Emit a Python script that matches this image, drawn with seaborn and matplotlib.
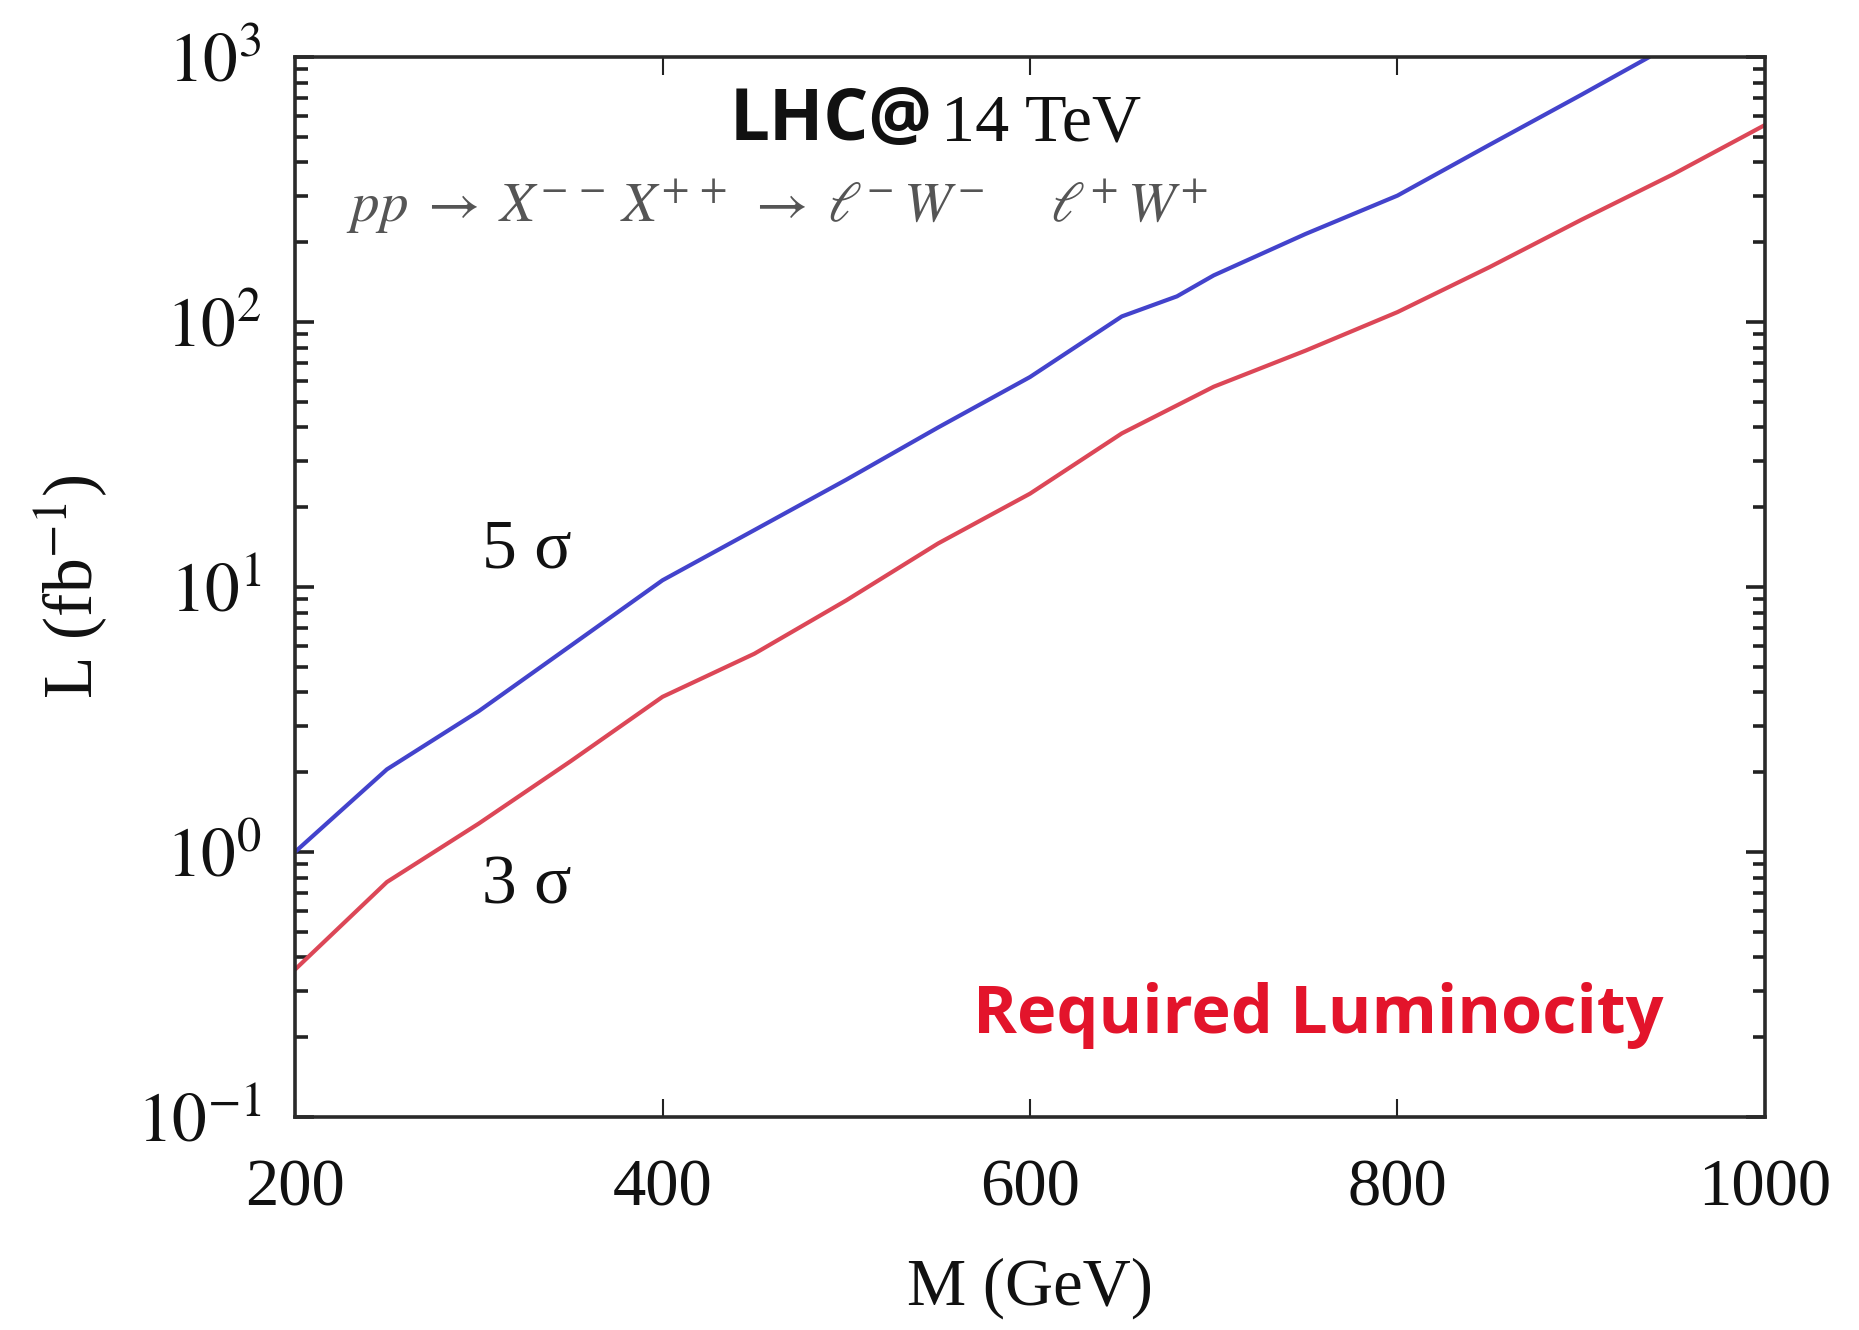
import matplotlib
matplotlib.use("Agg")
import matplotlib.pyplot as plt
import seaborn as sns
import pandas as pd

# ---------------- data ----------------
mass_5sigma = [200, 250, 300, 350, 400, 450, 500, 550, 600, 650, 680, 700, 750, 800, 850, 900, 937]
lumi_5sigma = [1.0, 2.05, 3.4, 6.0, 10.6, 16.4, 25.4, 40, 62, 105, 125, 150, 215, 300, 466, 720, 1000]

mass_3sigma = [200, 250, 300, 350, 400, 450, 500, 550, 600, 650, 700, 750, 800, 850, 900, 950, 1000]
lumi_3sigma = [0.36, 0.77, 1.28, 2.2, 3.85, 5.6, 8.9, 14.6, 22.5, 38, 57, 78, 109, 161, 243, 361, 554]

x_ticks = [200, 400, 600, 800, 1000]
x_tick_labels = ["200", "400", "600", "800", "1000"]
y_ticks = [0.1, 1, 10, 100, 1000]
y_tick_labels = [r"$10^{-1}$", r"$10^{0}$", r"$10^{1}$", r"$10^{2}$", r"$10^{3}$"]

x_label = "M (GeV)"
y_label = r"L (fb$^{-1}$)"
label_5 = "5 σ"
label_3 = "3 σ"
title_bold = "LHC@"
title_rest = "14 TeV"
process = (r"$pp \;\rightarrow\; X^{-\,-}\,X^{+\,+} \;\rightarrow\; "
           r"\ell^{-}\,W^{-}\quad\;\; \ell^{+}\,W^{+}$")
note = "Required Luminocity"

# ---------------- style ----------------
sns.set_style("ticks")
plt.rcParams["font.family"] = ["Liberation Serif", "DejaVu Serif"]
plt.rcParams["mathtext.fontset"] = "stix"
plt.rcParams["axes.linewidth"] = 2.6
plt.rcParams["axes.edgecolor"] = "#2a2a2a"

fig = plt.figure(figsize=(18.59, 13.30), dpi=100)
ax = fig.add_axes([0.1587, 0.1602, 0.7907, 0.7969])

df5 = pd.DataFrame({"M": mass_5sigma, "L": lumi_5sigma})
df3 = pd.DataFrame({"M": mass_3sigma, "L": lumi_3sigma})
sns.lineplot(data=df5, x="M", y="L", ax=ax, color="#4343cc", linewidth=3.0)
sns.lineplot(data=df3, x="M", y="L", ax=ax, color="#dc4757", linewidth=3.0)

ax.set_yscale("log")
ax.set_xlim(200, 1000)
ax.set_ylim(0.1, 1000)

ax.set_xticks(x_ticks)
ax.set_xticklabels(x_tick_labels)
ax.set_yticks(y_ticks)
ax.set_yticklabels(y_tick_labels)

ax.tick_params(axis="x", which="major", direction="in", length=13, width=1.5,
               top=True, bottom=True, labelsize=48, pad=30, colors="#222222")
ax.tick_params(axis="x", which="minor", bottom=False, top=False)
ax.tick_params(axis="y", which="major", direction="in", length=14, width=2.6,
               left=True, right=True, labelsize=50, pad=24, colors="#222222")
ax.tick_params(axis="y", which="minor", direction="in", length=9, width=2.6,
               left=True, right=True, colors="#222222")
for lab in ax.get_xticklabels() + ax.get_yticklabels():
    lab.set_color("#111111")

ax.set_xlabel(x_label, fontsize=48, color="#111111")
ax.set_ylabel(y_label, fontsize=50, color="#111111")
ax.xaxis.set_label_coords(0.5, -0.133)
ax.yaxis.set_label_coords(-0.126, 0.5)

# ---------------- annotations ----------------
fig.text(933 / 1859, 1 - 140 / 1330, title_bold, ha="right", va="baseline",
         fontsize=51, fontweight="bold", family=["Open Sans", "DejaVu Sans"], color="#111111")
fig.text(941 / 1859, 1 - 140 / 1330, title_rest, ha="left", va="baseline",
         fontsize=49, color="#111111")
fig.text(346 / 1859, 1 - 222 / 1330, process, ha="left", va="baseline",
         fontsize=41, color="#555555")
fig.text(482 / 1859, 1 - 567 / 1330, label_5, ha="left", va="baseline",
         fontsize=50, color="#111111")
fig.text(482 / 1859, 1 - 904 / 1330, label_3, ha="left", va="baseline",
         fontsize=50, color="#111111")
fig.text(973 / 1859, 1 - 1033 / 1330, note, ha="left", va="baseline",
         fontsize=48, fontweight="bold", family=["Open Sans", "DejaVu Sans"], color="#e3142b")

fig.savefig("out.png", dpi=100)
